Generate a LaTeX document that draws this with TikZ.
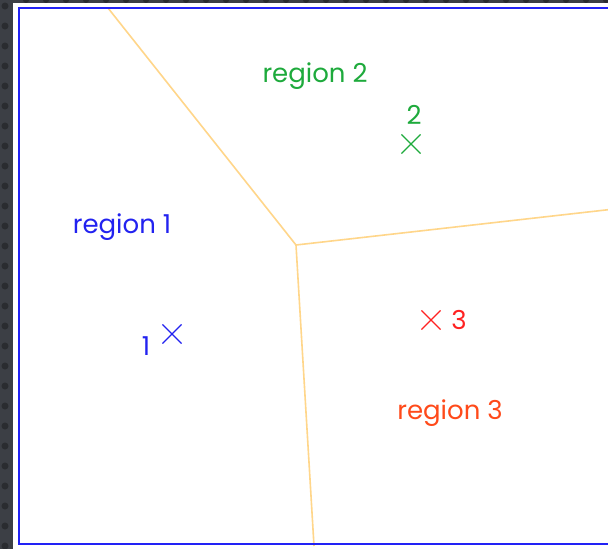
\documentclass[tikz,border=0pt]{standalone}
\usepackage{fontspec}
\setmainfont{Poppins}
\usetikzlibrary{shapes.misc}
\definecolor{bgdark}{HTML}{3C3F45}
\definecolor{bgdot}{HTML}{2A2C30}
\definecolor{frameblue}{HTML}{2222F5}
\definecolor{edgeyellow}{HTML}{FFD68A}
\definecolor{rgreen}{HTML}{1EAA3C}
\definecolor{rblue}{HTML}{2222F0}
\definecolor{rred}{HTML}{FF2222}
\definecolor{rorange}{HTML}{FF4A1A}
\tikzset{
  site/.style={cross out, draw, line width=1.1pt, minimum size=18pt, inner sep=0pt},
  lbl/.style={font=\fontsize{26}{28}\selectfont, inner sep=0pt},
  edge/.style={draw=edgeyellow, line width=1.6pt},
}
\begin{document}
\begin{tikzpicture}[x=1pt,y=-1pt]
\useasboundingbox (0,0) rectangle (608,549);
\clip (0,0) rectangle (608,549);
\fill[bgdark] (0,0) rectangle (608,549);
\foreach \y in {6,26,...,549} \fill[bgdot] (5,\y) circle (3.5);
\foreach \x in {26,46,...,608} \fill[bgdot] (\x,0) circle (3);
\fill[white] (13,3) rectangle (612,552);
% voronoi edges
\coordinate (top) at (108,8);
\coordinate (junc) at (296,245);
\coordinate (right) at (610,209.5);
\coordinate (bot) at (314,546);
\draw[edge] (top) -- (junc);
\draw[edge] (junc) -- (right);
\draw[edge] (junc) -- (bot);
% frame
\draw[frameblue, line width=2pt] (18.5,7.5) rectangle (620,544);
% sites
\node[site, rblue] (s1) at (172,334) {};
\node[site, rgreen] (s2) at (411,144) {};
\node[site, rred] (s3) at (431,320) {};
\node[lbl, text=rblue] (n1) at (146,346) {1};
\node[lbl, text=rgreen] (n2) at (414,115) {2};
\node[lbl, text=rred] (n3) at (459,320) {3};
% region labels
\node[lbl, text=rblue] (r1) at (122,227) {region 1};
\node[lbl, text=rgreen] (r2) at (315,76) {region 2};
\node[lbl, text=rorange] (r3) at (450,413) {region 3};
\end{tikzpicture}
\end{document}
